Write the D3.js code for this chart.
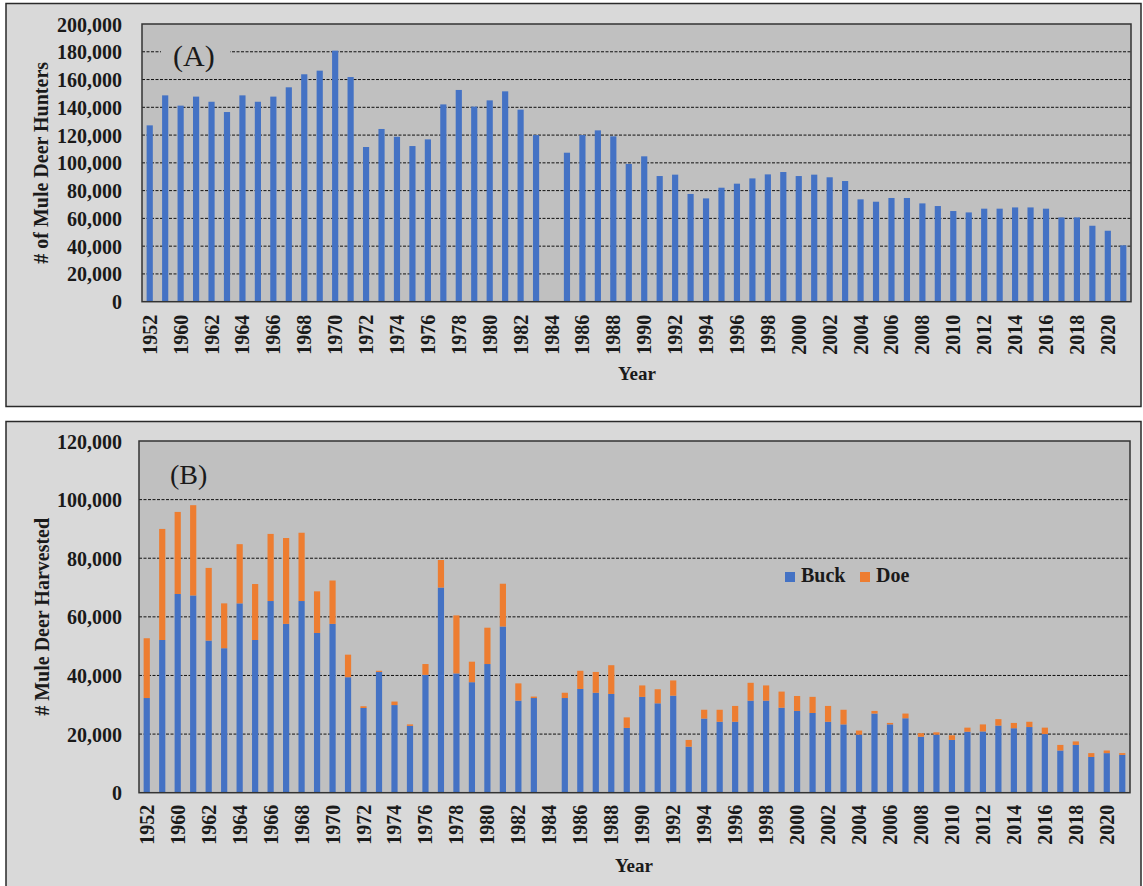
<!DOCTYPE html>
<html>
<head>
<meta charset="utf-8">
<script src="https://cdn.jsdelivr.net/npm/d3@7/dist/d3.min.js"></script>
<style>
  html, body { margin: 0; padding: 0; background: #ffffff; }
  svg { display: block; }
  text { font-family: "Liberation Serif", "Times New Roman", serif; fill: #1a1a1a; }
</style>
</head>
<body>
<svg id="chart" width="1143" height="886"></svg>
<script>
// ---------------- DATA ----------------
const years = ["1952","1959","1960","1961","1962","1963","1964","1965","1966","1967","1968","1969",
  "1970","1971","1972","1973","1974","1975","1976","1977","1978","1979",
  "1980","1981","1982","1983","1984","1985","1986","1987","1988","1989",
  "1990","1991","1992","1993","1994","1995","1996","1997","1998","1999",
  "2000","2001","2002","2003","2004","2005","2006","2007","2008","2009",
  "2010","2011","2012","2013","2014","2015","2016","2017","2018","2019",
  "2020","2021"];

const hunters = [127000,148600,141200,147700,144000,136600,148600,144000,147700,154400,163800,166400,
  180800,161800,111400,124400,118800,112100,116900,142100,152500,140500,
  145000,151500,138300,120000,null,107300,120000,123400,119100,99200,
  104700,90500,91500,77600,74400,82100,85000,88800,91700,93400,
  90500,91500,89600,86900,73700,72000,74700,74700,70800,68900,
  65300,64300,67000,67000,67900,67900,67000,60700,60700,54700,
  51100,40600];

const buck = [32300,52100,67800,67300,51900,49300,64600,52100,65400,57600,65400,54500,
  57600,39400,28900,41200,29900,22800,40200,70000,40700,37700,
  43900,56700,31400,32300,null,32300,35400,34100,33700,22100,
  32700,30500,33100,15700,25300,24200,24200,31400,31400,29000,
  27900,27200,24200,23300,19800,27000,23300,25400,19100,19800,
  18000,20800,20900,22900,22000,22400,20000,14400,16300,12200,
  13500,12900];

const doe = [20400,37900,28000,30800,24800,15300,20200,19100,22900,29300,23300,14200,
  14800,7700,600,400,1200,500,3700,9400,19800,7000,
  12400,14600,5900,500,null,1800,6200,7100,9800,3600,
  3900,4800,5200,2300,3000,4100,5400,6100,5200,5500,
  5100,5500,5400,5000,1400,900,500,1600,1200,800,
  1600,1400,2400,2200,1800,1800,2200,1900,1200,1300,
  900,600];

const ticksA = [0,20000,40000,60000,80000,100000,120000,140000,160000,180000,200000];
const ticksB = [0,20000,40000,60000,80000,100000,120000];
const seriesNames = ["Buck","Doe"];
const seriesColors = ["#4472C4","#ED7D31"];

// ---------------- DRAW ----------------
const svg = d3.select("#chart");
const fmt = d3.format(",");
const outerBg = "#d9d9d9", plotBg = "#c0c0c0";

function panel(o) {
  const g = svg.append("g");
  g.append("rect").attr("x", o.box[0]).attr("y", o.box[1]).attr("width", o.box[2]).attr("height", o.box[3])
    .attr("fill", outerBg).attr("stroke", "#2a2a2a").attr("stroke-width", 1.5);

  const x = d3.scaleBand().domain(years).range([o.left, o.right]).paddingInner(0.6).paddingOuter(0.3);
  const y = d3.scaleLinear().domain([0, o.ymax]).range([o.bottom, o.top]);

  g.append("rect").attr("x", o.left).attr("y", o.top).attr("width", o.right - o.left).attr("height", o.bottom - o.top)
    .attr("fill", plotBg);

  // gridlines
  g.append("g").selectAll("line").data(o.ticks.filter(t => t > 0 && t < o.ymax)).join("line")
    .attr("x1", o.left).attr("x2", o.right)
    .attr("y1", d => y(d)).attr("y2", d => y(d))
    .attr("stroke", "#111").attr("stroke-width", 1).attr("stroke-dasharray", "3,1.5");

  // y axis labels
  const ya = d3.axisLeft(y).tickValues(o.ticks).tickFormat(d => fmt(d)).tickSize(0).tickPadding(o.left - 122);
  const yg = g.append("g").attr("transform", `translate(${o.left},0)`).call(ya);
  yg.select(".domain").remove();
  yg.selectAll("text").attr("font-family", "Liberation Serif").attr("font-weight", "bold")
    .attr("font-size", 20).attr("fill", "#1a1a1a").attr("dy", "0.35em");

  // x axis labels
  const xa = d3.axisBottom(x).tickValues(years.filter((d, i) => i % 2 === 0)).tickSize(0);
  const xg = g.append("g").attr("transform", `translate(0,${o.bottom})`).call(xa);
  xg.select(".domain").remove();
  xg.selectAll("text").attr("font-family", "Liberation Serif").attr("font-weight", "bold")
    .attr("font-size", 20).attr("fill", "#1a1a1a")
    .attr("transform", "rotate(-90)").attr("text-anchor", "end")
    .attr("x", -o.xlabGap).attr("y", 0).attr("dy", "0.35em");

  return { g, x, y };
}

// Panel A
const A = panel({ box: [6, 3.5, 1135, 403], left: 142, right: 1131, top: 24, bottom: 301.7, ymax: 200000, ticks: ticksA, xlabGap: 13 });
A.g.append("g").selectAll("rect").data(years.map((d, i) => ({ year: d, v: hunters[i] })).filter(d => d.v != null))
  .join("rect")
  .attr("x", d => A.x(d.year)).attr("width", A.x.bandwidth())
  .attr("y", d => A.y(d.v)).attr("height", d => A.y(0) - A.y(d.v))
  .attr("fill", seriesColors[0]);
// panel label A with masking background
A.g.append("rect").attr("x", 161).attr("y", 36).attr("width", 69).attr("height", 34).attr("fill", plotBg);
A.g.append("text").attr("x", 173).attr("y", 66).attr("font-size", 30).text("(A)");
A.g.append("rect").attr("x", 142).attr("y", 24).attr("width", 989).attr("height", 277.7)
  .attr("fill", "none").attr("stroke", "#333").attr("stroke-width", 1.5);
A.g.append("text").attr("x", 637).attr("y", 380).attr("text-anchor", "middle")
  .attr("font-size", 19).attr("font-weight", "bold").text("Year");
A.g.append("text").attr("transform", `translate(48,${(24 + 301.7) / 2}) rotate(-90)`).attr("text-anchor", "middle")
  .attr("font-size", 20).attr("font-weight", "bold").text("# of Mule Deer Hunters");

// Panel B
const B = panel({ box: [6, 421.5, 1135, 470], left: 139, right: 1130, top: 441, bottom: 792.7, ymax: 120000, ticks: ticksB, xlabGap: 12 });
const rows = years.map((d, i) => ({ year: d, Buck: buck[i], Doe: doe[i] })).filter(d => d.Buck != null);
const stack = d3.stack().keys(seriesNames)(rows);
B.g.append("g").selectAll("g").data(stack).join("g")
  .attr("fill", (d, i) => seriesColors[i])
  .selectAll("rect").data(d => d).join("rect")
  .attr("x", d => B.x(d.data.year)).attr("width", B.x.bandwidth())
  .attr("y", d => B.y(d[1])).attr("height", d => B.y(d[0]) - B.y(d[1]));
B.g.append("text").attr("x", 170).attr("y", 484).attr("font-size", 28).text("(B)");
B.g.append("rect").attr("x", 139).attr("y", 441).attr("width", 991).attr("height", 351.7)
  .attr("fill", "none").attr("stroke", "#333").attr("stroke-width", 1.5);
B.g.append("text").attr("x", 634).attr("y", 872).attr("text-anchor", "middle")
  .attr("font-size", 19).attr("font-weight", "bold").text("Year");
B.g.append("text").attr("transform", `translate(49,${(441 + 792.7) / 2}) rotate(-90)`).attr("text-anchor", "middle")
  .attr("font-size", 20).attr("font-weight", "bold").text("# Mule Deer Harvested");

// legend
const legX = [785, 860];
const leg = B.g.append("g").selectAll("g").data(seriesNames).join("g")
  .attr("transform", (d, i) => `translate(${legX[i]},572)`);
leg.append("rect").attr("width", 10).attr("height", 10).attr("fill", (d, i) => seriesColors[i]);
leg.append("text").attr("x", 16).attr("y", 10).attr("font-size", 20).attr("font-weight", "bold").text(d => d);
</script>
</body>
</html>
